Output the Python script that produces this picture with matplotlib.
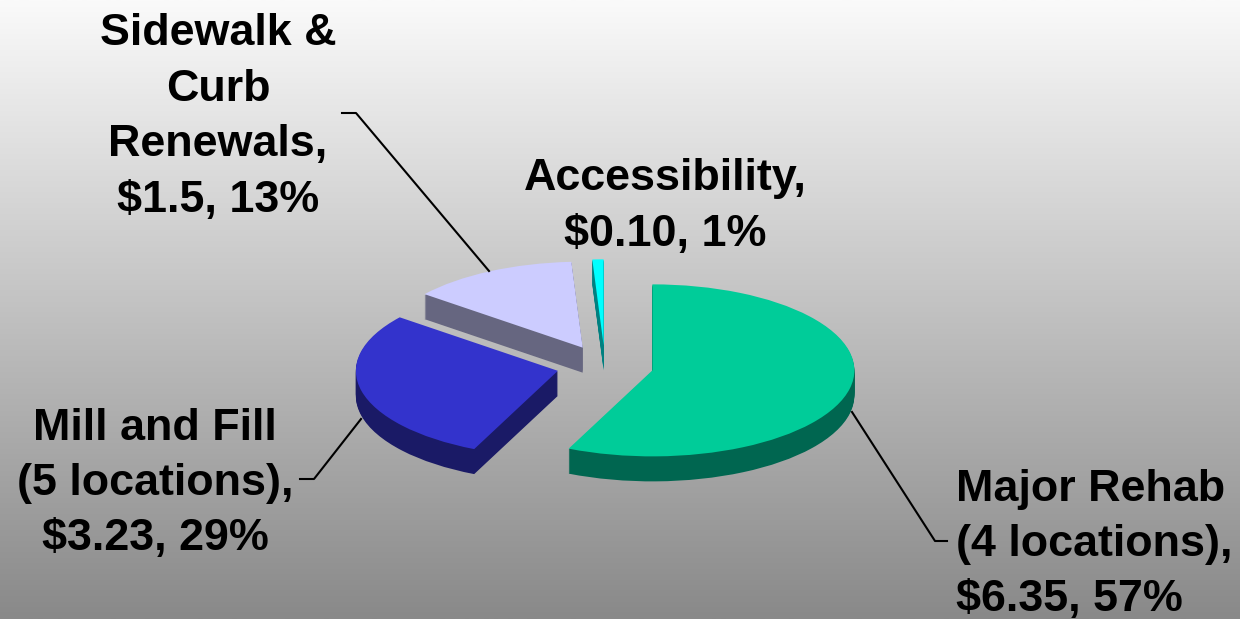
import numpy as np
import matplotlib
matplotlib.use("Agg")
import matplotlib.pyplot as plt
from matplotlib.colors import LinearSegmentedColormap
from matplotlib.lines import Line2D

plt.rcParams['font.family'] = ['Liberation Sans', 'DejaVu Sans']

# order is clockwise from 12 o'clock
values = [6.35, 3.23, 1.5, 0.10]
top_colors = ['#00CC99', '#3333CC', '#CCCCFF', '#00FFFF']
side_colors = ['#006650', '#1A1A66', '#666680', '#008080']
labels = ['Major Rehab\n(4 locations),\n$6.35, 57%',
          'Mill and Fill\n(5 locations),\n$3.23, 29%',
          'Sidewalk &\nCurb\nRenewals,\n$1.5, 13%',
          'Accessibility,\n$0.10, 1%']

W, H = 1240, 619
cx, cy = 605, 366     # pie centre, pixels
rx, ry = 202, 86      # pie radii, pixels
depth = 25

fig = plt.figure(figsize=(W / 100, H / 100), dpi=100)

# background gradient
bg = fig.add_axes([0, 0, 1, 1])
cmap = LinearSegmentedColormap.from_list('bg', ['#FAFAFA', '#898989'])
bg.imshow(np.linspace(0, 1, 256).reshape(-1, 1), cmap=cmap, aspect='auto')
bg.axis('off')

ax = fig.add_axes([0, 0, 1, 1])
ax.patch.set_alpha(0)
explode = [0.24] * len(values)

# stack dark copies to get the thickness, then the top face
for k in range(depth, 0, -1):
    ax.pie(values, explode=explode, colors=side_colors, startangle=90,
           counterclock=False, center=(0, -k / ry), normalize=True)
ax.pie(values, explode=explode, colors=top_colors, startangle=90,
       counterclock=False, center=(0, 0), normalize=True)

ax.set_aspect('auto')
ax.set_xlim(-cx / rx, (W - cx) / rx)
ax.set_ylim((cy - H) / ry, cy / ry)
ax.axis('off')


def px(x, y):
    return x / W, 1 - y / H


# leader lines
leaders = [[(852, 412), (935, 541), (947, 541)],
           [(361, 419), (314, 479), (300, 479)],
           [(489, 271), (356, 113), (342, 113)]]
for pts in leaders:
    xs, ys = zip(*[px(*p) for p in pts])
    fig.add_artist(Line2D(xs, ys, color='black', lw=1.5,
                          transform=fig.transFigure))

fs = 32.3
ls = 1.45
fig.text(*px(956, 544.5), labels[0].replace('$', r'\$'), fontsize=fs, fontweight='bold',
         ha='left', va='center', linespacing=ls)
fig.text(*px(155, 483.5), labels[1].replace('$', r'\$'), fontsize=fs, fontweight='bold',
         ha='center', va='center', linespacing=ls)
fig.text(*px(218, 117), labels[2].replace('$', r'\$'), fontsize=fs, fontweight='bold',
         ha='center', va='center', linespacing=ls)
fig.text(*px(665, 206.5), labels[3].replace('$', r'\$'), fontsize=fs, fontweight='bold',
         ha='center', va='center', linespacing=ls)

fig.savefig('out.png', dpi=100)
